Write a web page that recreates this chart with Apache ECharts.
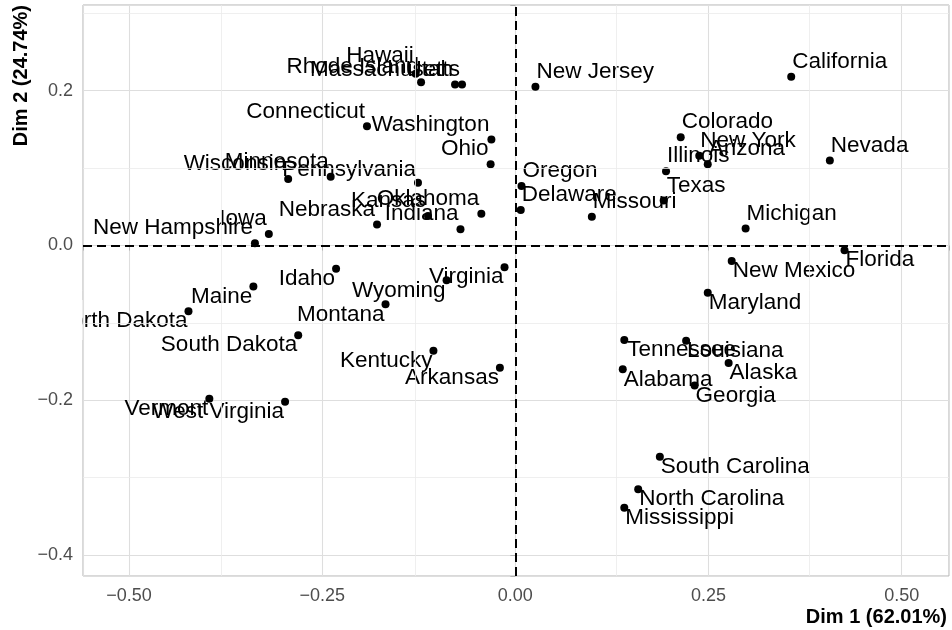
<!DOCTYPE html>
<html>
<head>
<meta charset="utf-8">
<script src="https://cdn.jsdelivr.net/npm/echarts@6/dist/echarts.min.js"></script>
<style>
html, body { margin: 0; padding: 0; background: #fff; }
#chart { width: 952px; height: 630px; }
</style>
</head>
<body>
<div id="chart"></div>
<script>
// individuals and their coordinates on the two first dimensions
const states = [
  'Alabama', 'Alaska', 'Arizona', 'Arkansas', 'California', 'Colorado', 'Connecticut',
  'Delaware', 'Florida', 'Georgia', 'Hawaii', 'Idaho', 'Illinois', 'Indiana', 'Iowa',
  'Kansas', 'Kentucky', 'Louisiana', 'Maine', 'Maryland', 'Massachusetts', 'Michigan',
  'Minnesota', 'Mississippi', 'Missouri', 'Montana', 'Nebraska', 'Nevada', 'New Hampshire',
  'New Jersey', 'New Mexico', 'New York', 'North Carolina', 'North Dakota', 'Ohio',
  'Oklahoma', 'Oregon', 'Pennsylvania', 'Rhode Island', 'South Carolina', 'South Dakota',
  'Tennessee', 'Texas', 'Utah', 'Vermont', 'Virginia', 'Washington', 'West Virginia',
  'Wisconsin', 'Wyoming'
]
const dim1 = [
  0.139, 0.276, 0.249, -0.020, 0.357, 0.214, -0.192,
  0.007, 0.426, 0.232, -0.129, -0.232, 0.195, -0.071, -0.319,
  -0.113, -0.106, 0.221, -0.339, 0.249, -0.069, 0.298,
  -0.239, 0.141, 0.099, -0.168, -0.179, 0.407, -0.337,
  0.026, 0.280, 0.238, 0.159, -0.423, -0.032,
  -0.044, 0.008, -0.126, -0.122, 0.187, -0.281,
  0.141, 0.192, -0.078, -0.396, -0.014, -0.031, -0.298,
  -0.294, -0.089
]
const dim2 = [
  -0.160, -0.152, 0.105, -0.158, 0.218, 0.140, 0.154,
  0.046, -0.006, -0.181, 0.222, -0.030, 0.096, 0.021, 0.015,
  0.038, -0.136, -0.123, -0.053, -0.061, 0.208, 0.022,
  0.089, -0.339, 0.037, -0.076, 0.027, 0.110, 0.003,
  0.205, -0.020, 0.116, -0.315, -0.085, 0.105,
  0.041, 0.077, 0.081, 0.211, -0.273, -0.116,
  -0.122, 0.058, 0.208, -0.198, -0.028, 0.137, -0.202,
  0.086, -0.045
]

// axis ticks
const xTicks = [-0.5, -0.25, 0, 0.25, 0.5]
const yTicks = [-0.4, -0.2, 0, 0.2]
const xMinor = [-0.375, -0.125, 0.125, 0.375]
const yMinor = [-0.3, -0.1, 0.1, 0.3]

// where each label sits around its point (u/d = above/below, l/r = left/right)
const labelSide = {
  'Alabama': 'dr', 'Alaska': 'dr', 'Arizona': 'ur', 'Arkansas': 'dl', 'California': 'ur',
  'Colorado': 'ur', 'Connecticut': 'ul', 'Delaware': 'ur', 'Florida': 'dr', 'Georgia': 'dr',
  'Hawaii': 'ul', 'Idaho': 'dl', 'Illinois': 'ur', 'Indiana': 'ul', 'Iowa': 'ul',
  'Kansas': 'ul', 'Kentucky': 'dl', 'Louisiana': 'dr', 'Maine': 'dl', 'Maryland': 'dr',
  'Massachusetts': 'ul', 'Michigan': 'ur', 'Minnesota': 'ul', 'Mississippi': 'dr', 'Missouri': 'ur',
  'Montana': 'dl', 'Nebraska': 'ul', 'Nevada': 'ur', 'New Hampshire': 'ul', 'New Jersey': 'ur',
  'New Mexico': 'dr', 'New York': 'ur', 'North Carolina': 'dr', 'North Dakota': 'dl', 'Ohio': 'ul',
  'Oklahoma': 'ul', 'Oregon': 'ur', 'Pennsylvania': 'ul', 'Rhode Island': 'ul', 'South Carolina': 'dr',
  'South Dakota': 'dl', 'Tennessee': 'dr', 'Texas': 'ur', 'Utah': 'ul', 'Vermont': 'dl',
  'Virginia': 'dl', 'Washington': 'ul', 'West Virginia': 'dl', 'Wisconsin': 'ul', 'Wyoming': 'dl'
}
const labelNudge = {
  'Hawaii': [0, -3],
  'Pennsylvania': [0, 2],
  'Tennessee': [2, 0],
  'Texas': [2, 0]
}
const sideStyle = {
  ur: { align: 'left', offset: [1, -15] },
  ul: { align: 'right', offset: [-2, -15] },
  dr: { align: 'left', offset: [1, 10] },
  dl: { align: 'right', offset: [-1, 10] }
}

const FONT = '"Liberation Sans", Arial, Helvetica, sans-serif'

const points = states.map((name, i) => {
  const s = sideStyle[labelSide[name]]
  const n = labelNudge[name] || [0, 0]
  return {
    name: name,
    value: [dim1[i], dim2[i]],
    label: { align: s.align, offset: [s.offset[0] + n[0], s.offset[1] + n[1]] }
  }
})

const fmtTick = (ticks, digits) => v => {
  const hit = ticks.find(t => Math.abs(t - v) < 1e-9)
  if (hit === undefined) return ''
  return hit.toFixed(digits).replace('-', '\u2212')
}

const minorLine = { type: 'solid', color: '#ebebeb', width: 0.8 }
const zeroLine = { type: [9, 5], color: '#000', width: 2 }

const option = {
  animation: false,
  backgroundColor: '#fff',
  grid: {
    left: 83,
    right: 3,
    top: 5,
    bottom: 54,
    show: true,
    borderColor: '#b3b3b3',
    borderWidth: 1
  },
  xAxis: {
    type: 'value',
    min: -0.5595,
    max: 0.5612,
    minInterval: 0.25,
    maxInterval: 0.25,
    axisLine: { show: false },
    axisTick: { show: true, length: 5, lineStyle: { color: '#b3b3b3' } },
    axisLabel: {
      margin: 11,
      color: '#4d4d4d',
      fontSize: 18,
      fontFamily: FONT,
      formatter: fmtTick(xTicks, 2)
    },
    splitLine: { show: true, lineStyle: { color: '#dedede', width: 1.1 } }
  },
  yAxis: {
    type: 'value',
    min: -0.4271,
    max: 0.3108,
    minInterval: 0.2,
    maxInterval: 0.2,
    axisLine: { show: false },
    axisTick: { show: true, length: 5, lineStyle: { color: '#b3b3b3' } },
    axisLabel: {
      margin: 10,
      color: '#4d4d4d',
      fontSize: 18,
      fontFamily: FONT,
      formatter: fmtTick(yTicks, 1)
    },
    splitLine: { show: true, lineStyle: { color: '#dedede', width: 1.1 } }
  },
  graphic: [
    {
      type: 'text',
      right: 5,
      top: 607,
      style: { text: 'Dim 1 (62.01%)', font: 'bold 20px ' + FONT, fill: '#000' }
    },
    {
      type: 'text',
      x: 21,
      y: 5,
      rotation: Math.PI / 2,
      style: {
        text: 'Dim 2 (24.74%)',
        font: 'bold 20px ' + FONT,
        fill: '#000',
        align: 'right',
        verticalAlign: 'middle'
      }
    },
    {
      // the panel clips labels that run past its left edge
      type: 'rect',
      z: 100,
      shape: { x: 0, y: 300, width: 82.5, height: 40 },
      style: { fill: '#fff' }
    }
  ],
  series: [
    {
      type: 'scatter',
      z: 1,
      silent: true,
      data: [],
      markLine: {
        silent: true,
        symbol: ['none', 'none'],
        label: { show: false },
        data: xMinor.map(v => ({ xAxis: v, lineStyle: minorLine }))
          .concat(yMinor.map(v => ({ yAxis: v, lineStyle: minorLine })))
          .concat([{ xAxis: 0, lineStyle: zeroLine }, { yAxis: 0, lineStyle: zeroLine }])
      }
    },
    {
      type: 'scatter',
      z: 3,
      symbolSize: 8,
      itemStyle: { color: '#000', opacity: 1 },
      label: {
        show: true,
        position: 'inside',
        verticalAlign: 'middle',
        formatter: '{b}',
        color: '#000',
        textBorderWidth: 0,
        textBorderColor: 'transparent',
        fontSize: 22.5,
        fontFamily: FONT
      },
      data: points
    }
  ]
}

const chart = echarts.init(document.getElementById('chart'))
chart.setOption(option)
</script>
</body>
</html>
